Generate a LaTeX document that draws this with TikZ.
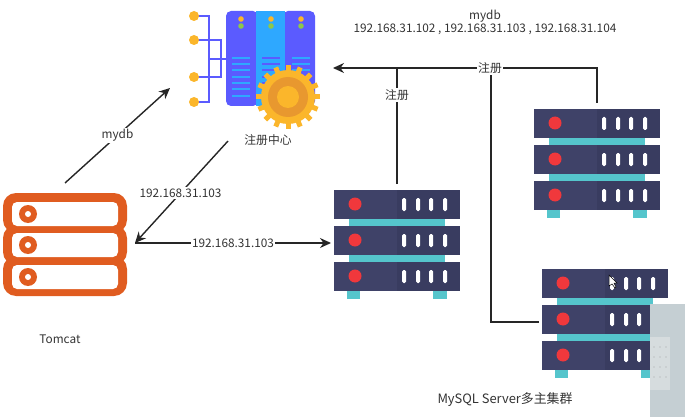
\documentclass[tikz,border=0pt]{standalone}
\usepackage{fontspec}
\setmainfont{Noto Sans CJK SC}
\usetikzlibrary{arrows.meta}
\definecolor{rackdark}{HTML}{3F4268}
\definecolor{rackshade}{HTML}{393C60}
\definecolor{rackteal}{HTML}{55C5CC}
\definecolor{rackled}{HTML}{F0383C}
\definecolor{tomcatorange}{HTML}{E05C20}
\definecolor{panelblue}{HTML}{5B5BFF}
\definecolor{panelsky}{HTML}{2EA8FF}
\definecolor{geary}{HTML}{FBB62B}
\definecolor{gearo}{HTML}{E8982F}
\definecolor{geargreen}{HTML}{8CC84B}
\definecolor{overlaygray}{HTML}{C5CFD3}
\definecolor{overlaypanel}{HTML}{D6DCDE}
\tikzset{
  x=1pt,y=-1pt,
  txt/.style={font=\fontsize{11.8}{14}\selectfont,text=black!80,inner sep=1.5pt},
  lbl/.style={txt,fill=white},
  link/.style={line width=1.4pt,draw=black!85},
  arrow/.style={link,-{Stealth[length=11pt,width=10pt]}},
  pics/rack/.style={code={
    \fill[rackteal] (15,29) rectangle (111,36);
    \fill[rackteal] (15,65) rectangle (111,72);
    \fill[rackteal] (13,101) rectangle (26,109);
    \fill[rackteal] (99,101) rectangle (113,109);
    \foreach \y in {0,36,72}{
      \fill[rackdark] (0,\y) rectangle (63,\y+29);
      \fill[rackshade] (63,\y) rectangle (126,\y+29);
      \fill[rackled] (21,\y+14) circle (6.5);
      \foreach \x in {70,84,97,111}
        \fill[white,rounded corners=1.5pt] (\x-2,\y+8) rectangle (\x+2,\y+21);
    }
    \coordinate (-top) at (63,-6);
    \coordinate (-left) at (-3,53);
  }},
  pics/tomcaticon/.style={code={
    \foreach \y in {0,32,63}{
      \fill[tomcatorange,rounded corners=13pt] (0,\y) rectangle (124,\y+40);
    }
    \foreach \y in {9,40,72}{
      \fill[white,rounded corners=5pt] (9,\y) rectangle (115,\y+24);
      \fill[tomcatorange] (25,\y+12) circle (9);
      \fill[white] (25,\y+12) circle (3);
    }
    \coordinate (-right) at (132,50);
  }},
  pics/registryicon/.style={code={
    \draw[panelblue,line width=2pt] (0,16)--(15,16)--(15,102)--(0,102);
    \draw[panelblue,line width=2pt] (0,40)--(27,40)--(27,77)--(0,77);
    \draw[panelblue,line width=2pt] (15,59)--(32,59);
    \foreach \y in {16,40,77,102}
      \fill[geary] (0,\y) circle (5);
    \fill[panelblue,rounded corners=5pt] (32,11) rectangle (64,106);
    \fill[panelblue,rounded corners=5pt] (89,11) rectangle (121,106);
    \fill[panelsky] (62,11) rectangle (91,106);
    \foreach \x in {47,77,107}{
      \fill[geary] (\x,19) circle (2.8);
      \fill[geargreen] (\x,26) circle (2.8);
    }
    \foreach \y in {58,64,70,77,83,89,96}{
      \draw[panelsky,line width=2.6pt] (38,\y)--(56,\y);
      \draw[panelblue,line width=2.6pt] (68,\y)--(86,\y);
      \draw[panelsky,line width=2.6pt] (98,\y)--(116,\y);
    }
    \foreach \a in {0,22.5,...,337.5}
      \draw[geary,line width=5pt] (94,97)++(\a:24)--++(\a:8);
    \fill[geary] (94,97) circle (27);
    \fill[gearo] (94,97) circle (20);
    \fill[geary] (94,97) circle (11);
    \coordinate (-in) at (139,68);
    \coordinate (-bus) at (297,68);
    \coordinate (-mydb) at (-24,88);
    \coordinate (-out) at (34,141);
  }}
}
\begin{document}
\begin{tikzpicture}
\useasboundingbox (0,0) rectangle (685,417);
\pic (reg) at (194,0) {registryicon};
\pic (tom) at (3,193) {tomcaticon};
\pic (srva) at (334,190) {rack};
\pic (srvb) at (534,109) {rack};
\pic (srvc) at (542,269) {rack};
\coordinate (mydbstart) at (65,183);
\draw[arrow] (mydbstart) -- (reg-mydb) node[lbl,pos=0.5] (lblmydb) {mydb};
\draw[arrow] (reg-out) -- (tom-right) node[lbl,pos=0.51] (lblip) {192.168.31.103};
\draw[arrow] (tom-right) -- (srva-left) node[lbl,pos=0.5] (lblipb) {192.168.31.103};
\draw[arrow] (srvb-top) |- (reg-in);
\draw[link] (srva-top) -- (srva-top |- reg-in);
\draw[link] (srvc-left) -| (reg-bus);
\node[lbl] (lblrega) at (397,95) {注册};
\node[lbl] (lblregb) at (490,68) {注册};
\node[txt] (titledb) at (485,16) {mydb};
\node[txt] (titleip) at (485,29) {192.168.31.102 , 192.168.31.103 , 192.168.31.104};
\node[txt] (reglabel) at (268,140) {注册中心};
\node[txt] (tomlabel) at (60,339) {Tomcat};
\node[txt,font=\fontsize{12.9}{15}\selectfont] (srvlabel) at (505,400) {MySQL Server多主集群};
\fill[overlaygray] (650,304) rectangle (685,417);
\fill[overlaypanel] (650,337) rectangle (670,390);
\foreach \y in {347,357,367,377}
  \foreach \x in {654,660,666}
    \fill[black!35] (\x,\y) circle (0.6);
\fill[white,draw=black,line width=0.5pt] (609,275)--(609,286)--(612,284)--(615,288)--(616,287)--(614,283)--(617,283)--cycle;
\end{tikzpicture}
\end{document}
